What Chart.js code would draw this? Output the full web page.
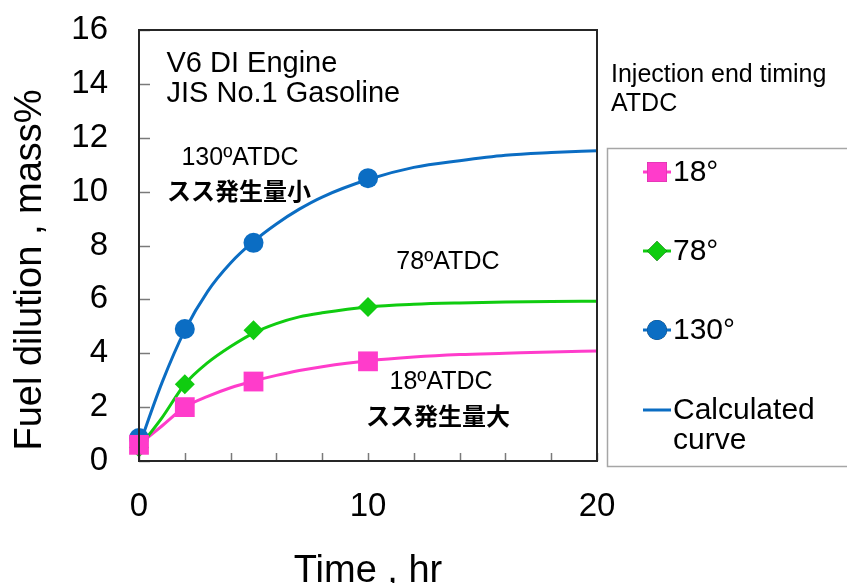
<!DOCTYPE html>
<html><head><meta charset="utf-8">
<script src="https://cdn.jsdelivr.net/npm/chart.js@4/dist/chart.umd.min.js"></script>
<style>html,body{margin:0;padding:0;background:#fff}#wrap{width:847px;height:583px;position:relative}</style>
</head><body><div id="wrap"><canvas id="c" width="847" height="583"></canvas></div>
<script>
// ---- data ----
const timeMeasured = [0, 2, 5, 10];
const dil18  = [0.6, 2.0, 2.95, 3.7];
const dil78  = [0.5, 2.85, 4.85, 5.72];
const dil130 = [0.85, 4.9, 8.1, 10.5];

const timeCurve = [0, 1, 2, 3, 4, 5, 6, 7, 8, 10, 12, 14, 16, 18, 20];
const curve130 = [0.55, 2.9, 4.85, 6.3, 7.35, 8.15, 8.8, 9.35, 9.8, 10.45, 10.9, 11.15, 11.35, 11.45, 11.52];
const curve78  = [0.5, 1.6, 2.85, 3.65, 4.25, 4.75, 5.1, 5.35, 5.5, 5.72, 5.82, 5.87, 5.9, 5.92, 5.93];
const curve18  = [0.6, 1.3, 2.0, 2.4, 2.72, 2.97, 3.18, 3.36, 3.5, 3.72, 3.86, 3.95, 4.0, 4.05, 4.08];

const xTickLabels = [0, 10, 20];
const xMinorTicks = [0, 2, 4, 6, 8, 10, 12, 14, 16, 18, 20];
const yTickValues = [0, 2, 4, 6, 8, 10, 12, 14, 16];

const seriesNames = ['18°', '78°', '130°'];
const curveName = 'Calculated curve';
const xTitle = 'Time , hr';
const yTitle = 'Fuel dilution , mass%';
const legendTitle = ['Injection end timing', 'ATDC'];

// ---- chart ----
const PINK = '#ff3ccb', GREEN = '#10cc10', BLUE = '#0b6dc3';
const toXY = (xs, ys) => xs.map((x, i) => ({x: x, y: ys[i]}));

const annotations = [
  {text: 'V6 DI Engine', x: 1.2, y: 14.74, font: '29px "Liberation Sans", Arial', align: 'left'},
  {text: 'JIS No.1 Gasoline', x: 1.2, y: 13.63, font: '29px "Liberation Sans", Arial', align: 'left'},
  {text: '130ºATDC', x: 4.41, y: 11.26, font: '25px "Liberation Sans", Arial', align: 'center'},
  {text: 'スス発生量小', x: 4.37, y: 10.04, font: 'bold 24px "Noto Sans CJK JP"', align: 'center'},
  {text: '78ºATDC', x: 13.49, y: 7.37, font: '25px "Liberation Sans", Arial', align: 'center'},
  {text: '18ºATDC', x: 13.19, y: 2.93, font: '25px "Liberation Sans", Arial', align: 'center'},
  {text: 'スス発生量大', x: 13.06, y: 1.67, font: 'bold 24px "Noto Sans CJK JP"', align: 'center'}
];

const decorPlugin = {
  id: 'decor',
  afterDraw(chart) {
    const ctx = chart.ctx, a = chart.chartArea;
    const xs = chart.scales.x, ys = chart.scales.y;
    ctx.save();
    // inward tick marks
    ctx.strokeStyle = '#7a7a7a'; ctx.lineWidth = 1.5;
    yTickValues.forEach(v => {
      const py = Math.round(ys.getPixelForValue(v)) + 0.5;
      ctx.beginPath(); ctx.moveTo(a.left, py); ctx.lineTo(a.left + 11, py); ctx.stroke();
    });
    xMinorTicks.forEach(v => {
      const px = Math.round(xs.getPixelForValue(v)) + 0.5;
      ctx.beginPath(); ctx.moveTo(px, a.bottom); ctx.lineTo(px, a.bottom - 8); ctx.stroke();
    });
    // frame
    ctx.strokeStyle = '#262626'; ctx.lineWidth = 2;
    ctx.strokeRect(a.left, a.top, a.right - a.left, a.bottom - a.top);
    // annotations
    ctx.fillStyle = '#000'; ctx.textBaseline = 'middle';
    annotations.forEach(t => {
      ctx.font = t.font; ctx.textAlign = t.align;
      ctx.fillText(t.text, xs.getPixelForValue(t.x), ys.getPixelForValue(t.y));
    });
    // axis titles
    ctx.font = '38px "Liberation Sans", Arial';
    ctx.textAlign = 'center'; ctx.textBaseline = 'alphabetic';
    ctx.fillText(xTitle, (a.left + a.right) / 2, 582);
    ctx.save();
    ctx.translate(41, 270); ctx.rotate(-Math.PI / 2);
    ctx.fillText(yTitle, 0, 0);
    ctx.restore();
    // legend title
    ctx.font = '25px "Liberation Sans", Arial'; ctx.textAlign = 'left'; ctx.textBaseline = 'middle';
    ctx.fillText(legendTitle[0], 611, 75);
    ctx.fillText(legendTitle[1], 611, 104);
    // legend box
    ctx.strokeStyle = '#a6a6a6'; ctx.lineWidth = 1.5;
    ctx.strokeRect(607.5, 148.5, 260, 318);
    // legend entries from datasets
    const ds = chart.data.datasets;
    const rows = [172, 251, 330, 410];
    for (let i = 0; i < 4; i++) {
      const d = ds[i], y = rows[i];
      ctx.strokeStyle = d.borderColor; ctx.lineWidth = 3;
      ctx.beginPath(); ctx.moveTo(643, y); ctx.lineTo(671, y); ctx.stroke();
      if (i < 3) {
        Chart.helpers.drawPoint(ctx, {pointStyle: d.pointStyle, radius: d.pointRadius, borderWidth: 0}, 657, y);
        ctx.fillStyle = d.backgroundColor; ctx.fill();
      }
      ctx.fillStyle = '#000'; ctx.font = '30px "Liberation Sans", Arial';
      if (i < 3) ctx.fillText(d.label, 673, y + 1);
      else { ctx.fillText('Calculated', 673, y + 1); ctx.fillText('curve', 673, y + 31); }
    }
    ctx.restore();
  }
};

const markerDs = (label, ys, color, style, r) => ({
  label: label, data: toXY(timeMeasured, ys), showLine: false,
  pointStyle: style, pointRadius: r, pointHoverRadius: r,
  backgroundColor: color, borderColor: color, borderWidth: 0, order: 0, clip: false
});
const curveDs = (label, ys, color) => ({
  label: label, data: toXY(timeCurve, ys), showLine: true, pointRadius: 0,
  borderColor: color, backgroundColor: color, borderWidth: 3,
  cubicInterpolationMode: 'monotone', order: 1, clip: false
});

new Chart(document.getElementById('c'), {
  type: 'scatter',
  data: {
    datasets: [
      markerDs(seriesNames[0], dil18, PINK, 'rect', 14),
      markerDs(seriesNames[1], dil78, GREEN, 'rectRot', 10),
      markerDs(seriesNames[2], dil130, BLUE, 'circle', 10),
      curveDs(curveName, curve130, BLUE),
      curveDs('78° curve', curve78, GREEN),
      curveDs('18° curve', curve18, PINK)
    ]
  },
  options: {
    responsive: false, animation: false, devicePixelRatio: 1,
    layout: {padding: {top: 30, right: 250, left: 0, bottom: 0}},
    plugins: {legend: {display: false}, tooltip: {enabled: false}},
    scales: {
      x: {
        type: 'linear', min: 0, max: 20,
        afterFit: s => { s.height = 122; s.paddingLeft = 0; s.paddingRight = 0; },
        afterBuildTicks: s => { s.ticks = xTickLabels.map(v => ({value: v})); },
        grid: {display: false, drawTicks: false},
        border: {display: false},
        ticks: {font: {family: '"Liberation Sans", Arial', size: 33}, color: '#000', padding: 26, maxRotation: 0}
      },
      y: {
        min: 0, max: 16,
        afterFit: s => { s.width = 139; s.paddingTop = 0; s.paddingBottom = 0; },
        afterBuildTicks: s => { s.ticks = yTickValues.map(v => ({value: v})); },
        grid: {display: false, drawTicks: false},
        border: {display: false},
        ticks: {font: {family: '"Liberation Sans", Arial', size: 33}, color: '#000', padding: 31}
      }
    }
  },
  plugins: [decorPlugin]
});
</script></body></html>
